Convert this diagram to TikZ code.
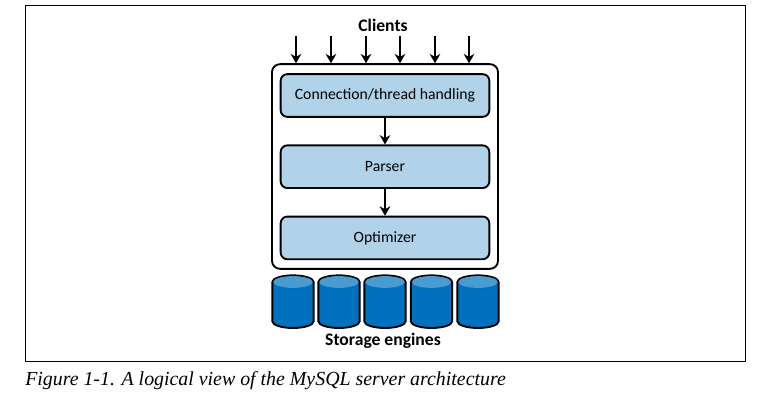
\documentclass[tikz,border=0pt]{standalone}
\usepackage{fontspec}
\setmainfont{Carlito}
\newfontfamily\captionfont{Liberation Serif}
\usepackage{xcolor}
\usetikzlibrary{arrows.meta,positioning}
\definecolor{stagefill}{HTML}{B0D3EA}
\definecolor{enginebody}{HTML}{0071BC}
\definecolor{enginetop}{HTML}{4A9BD0}
\tikzset{
	stagebox/.style={draw,line width=1.4pt,rounded corners=5pt,fill=stagefill,minimum width=156.5pt,minimum height=32pt,inner sep=0pt,font=\fontsize{11.8}{14}\selectfont},
	flowarrow/.style={line width=1pt,-{Stealth[length=7pt,width=8pt]}},
	heading/.style={font=\fontsize{13.2}{15}\selectfont\bfseries,inner sep=0pt},
}
\begin{document}
\begin{tikzpicture}[x=0.75pt,y=-0.75pt]
	\useasboundingbox (0,0) rectangle (757,403);
	% page frame
	\node[draw,line width=0.6pt,minimum width=540.5pt,minimum height=267pt,inner sep=0pt] (frame) at (385.5,183) {};
	% server
	\node[draw,line width=1.4pt,rounded corners=6pt,minimum width=169.5pt,minimum height=153.5pt,inner sep=0pt] (server) at (385,166.5) {};
	\node[stagebox] (conn) at (385,95.5) {\raisebox{-1.2pt}{Connection/thread handling}};
	\node[stagebox,below=20pt of conn] (parser) {\raisebox{-1.2pt}{Parser}};
	\node[stagebox,below=20pt of parser] (optimizer) {\raisebox{-1.2pt}{Optimizer}};
	\draw[flowarrow] (conn) -- (parser);
	\draw[flowarrow] (parser) -- (optimizer);
	% clients
	\node[heading] (clients) at (383,25.5) {Clients};
	\foreach \n/\x in {1/296,2/331,3/366,4/400,5/435,6/469} {
		\coordinate (c\n) at (\x,36);
		\draw[flowarrow] (c\n) -- (c\n |- server.north);
	}
	% engines
	\foreach \n/\x in {1/293,2/339,3/385,4/431.5,5/478} {
		\coordinate (db\n) at (\x,282);
		\draw[line width=1.4pt,fill=enginebody] ([xshift=-15.5pt]db\n) -- ([xshift=-15.5pt,yshift=-29.5pt]db\n) arc[start angle=180,end angle=360,x radius=15.5pt,y radius=5pt] -- ([xshift=15.5pt]db\n) arc[start angle=0,end angle=180,x radius=15.5pt,y radius=5pt] -- cycle;
		\fill[enginetop] ([xshift=-14.8pt]db\n) arc[start angle=180,end angle=-180,x radius=14.8pt,y radius=4.4pt];
	}
	\node[heading] (storage) at (383,340.5) {Storage engines};
	% caption
	\node[anchor=base west,inner sep=0pt,font=\captionfont\itshape\fontsize{14.9}{17}\selectfont] (caption) at (25,385) {Figure 1-1. A logical view of the MySQL server architecture};
\end{tikzpicture}
\end{document}
